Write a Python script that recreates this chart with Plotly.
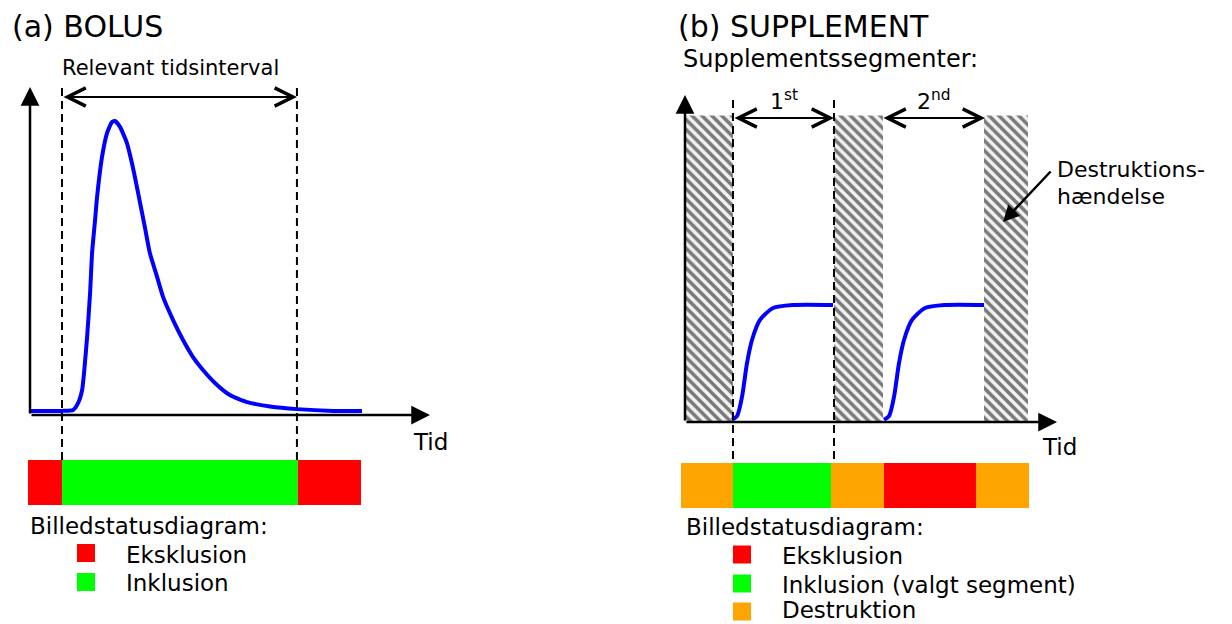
import plotly.graph_objects as go

W, H = 1232, 624
FONT = "DejaVu Sans"

# ---------------- Panel (a) BOLUS data ----------------
bolus_t = [0.0, 0.96, 1.30, 1.45, 1.57, 1.63, 1.72, 1.81, 1.87, 1.96, 2.02, 2.17, 2.32, 2.47, 2.56,
           2.71, 2.92, 3.07, 3.22, 3.46, 3.61, 3.83, 4.01, 4.31, 4.61, 4.91, 5.21, 5.57, 6.02,
           6.54, 7.23, 8.04, 9.13, 10.0]
bolus_v = [0.014, 0.014, 0.017, 0.041, 0.085, 0.146, 0.265, 0.415, 0.551, 0.663, 0.741, 0.878, 0.959, 0.997, 1.0,
           0.980, 0.925, 0.857, 0.776, 0.639, 0.551, 0.469, 0.401, 0.323, 0.255, 0.197, 0.153, 0.109, 0.068,
           0.044, 0.029, 0.020, 0.014, 0.014]
relevant_interval = [0.964, 8.04]
status_a_start = [-0.06, 0.964, 8.07]
status_a_end = [0.964, 8.07, 9.97]
status_a_color = ["#ff0000", "#00ff00", "#ff0000"]
legend_a_labels = ["Eksklusion", "Inklusion"]
legend_a_colors = ["#ff0000", "#00ff00"]

# ---------------- Panel (b) SUPPLEMENT data ----------------
destr_start = [0.0, 2.98, 5.98]
destr_end = [0.96, 3.96, 6.86]
destr_top = 2.62
seg1_t = [0.94, 1.04, 1.14, 1.24, 1.34, 1.50, 1.76, 2.16, 2.96]
seg1_v = [0.02, 0.05, 0.214, 0.504, 0.701, 0.872, 0.974, 1.0, 1.0]
seg2_t = [3.98, 4.08, 4.18, 4.28, 4.38, 4.54, 4.80, 5.20, 5.98]
seg2_v = [0.02, 0.05, 0.214, 0.504, 0.701, 0.872, 0.974, 1.0, 1.0]
segments = [[0.96, 2.98], [3.94, 6.0]]
segment_labels = ["1<sup>st</sup>", "2<sup>nd</sup>"]
status_b_start = [-0.08, 0.96, 2.92, 3.98, 5.82]
status_b_end = [0.96, 2.92, 3.98, 5.82, 6.88]
status_b_color = ["#ffa500", "#00ff00", "#ffa500", "#ff0000", "#ffa500"]
legend_b_labels = ["Eksklusion", "Inklusion (valgt segment)", "Destruktion"]
legend_b_colors = ["#ff0000", "#00ff00", "#ffa500"]

# ---------------- pixel <-> data helpers (layout only) ----------------
A_X0, A_SX, A_Y0, A_SY = 30, 33.2, 415, 294
B_X0, B_SX, B_Y0, B_SY = 685, 50.0, 422, 117


def ta(px):
    return (px - A_X0) / A_SX


def va(py):
    return (A_Y0 - py) / A_SY


def tb(px):
    return (px - B_X0) / B_SX


def vb(py):
    return (B_Y0 - py) / B_SY


def P(px):
    return px / W


def Q(py):
    return 1 - py / H


fig = go.Figure()

# hatched destruction events (panel b)
fig.add_trace(go.Bar(
    x=[(s + e) / 2 for s, e in zip(destr_start, destr_end)],
    width=[e - s for s, e in zip(destr_start, destr_end)],
    y=[destr_top] * len(destr_start), base=[0] * len(destr_start),
    marker=dict(color="white", line=dict(width=0),
                pattern=dict(shape="\\", size=7, solidity=0.5, fgcolor="#000000", bgcolor="#f2f2f2")),
    xaxis="x2", yaxis="y2", showlegend=False, hoverinfo="skip"))

# status bars
fig.add_trace(go.Bar(
    orientation="h", y=[(va(460) + va(505)) / 2] * len(status_a_start),
    x=[e - s for s, e in zip(status_a_start, status_a_end)], base=status_a_start,
    width=[va(460) - va(505)] * len(status_a_start),
    marker=dict(color=status_a_color, line=dict(width=0)),
    xaxis="x", yaxis="y", showlegend=False, hoverinfo="skip"))
fig.add_trace(go.Bar(
    orientation="h", y=[(vb(463) + vb(508)) / 2] * len(status_b_start),
    x=[e - s for s, e in zip(status_b_start, status_b_end)], base=status_b_start,
    width=[vb(463) - vb(508)] * len(status_b_start),
    marker=dict(color=status_b_color, line=dict(width=0)),
    xaxis="x2", yaxis="y2", showlegend=False, hoverinfo="skip"))

# curves
fig.add_trace(go.Scatter(x=bolus_t, y=bolus_v, mode="lines",
                         line=dict(color="#0000ff", width=4, shape="spline", smoothing=0.5),
                         xaxis="x", yaxis="y", showlegend=False, hoverinfo="skip"))
for st, sv in [(seg1_t, seg1_v), (seg2_t, seg2_v)]:
    fig.add_trace(go.Scatter(x=st, y=sv, mode="lines",
                             line=dict(color="#0000ff", width=4, shape="spline", smoothing=0.7),
                             xaxis="x2", yaxis="y2", showlegend=False, hoverinfo="skip"))

# legend squares
fig.add_trace(go.Scatter(x=[ta(86)] * len(legend_a_colors), y=[va(553), va(582)], mode="markers",
                         marker=dict(symbol="square", size=18, color=legend_a_colors),
                         xaxis="x", yaxis="y", showlegend=False, hoverinfo="skip"))
fig.add_trace(go.Scatter(x=[tb(742)] * len(legend_b_colors), y=[vb(554.5), vb(583.5), vb(611.5)],
                         mode="markers",
                         marker=dict(symbol="square", size=18, color=legend_b_colors),
                         xaxis="x2", yaxis="y2", showlegend=False, hoverinfo="skip"))

shapes = []
# dashed guides
for t in relevant_interval:
    shapes.append(dict(type="line", xref="x", yref="y", x0=t, x1=t, y0=va(88), y1=va(460),
                       line=dict(color="black", width=2, dash="8px,5px")))
for t in segments[0]:
    shapes.append(dict(type="line", xref="x2", yref="y2", x0=t, x1=t, y0=vb(100), y1=vb(462),
                       line=dict(color="black", width=2, dash="8px,5px")))

ann = []


def arrow(x, y, ax, ay, xr, yr, head=2, size=1.3, width=2.5, both=False):
    d = dict(x=x, y=y, ax=ax, ay=ay, xref=xr, yref=yr, axref=xr, ayref=yr, text="",
             showarrow=True, arrowhead=head, arrowsize=size, arrowwidth=width,
             arrowcolor="black", standoff=0, startstandoff=0)
    if both:
        d.update(arrowside="end+start", startarrowhead=head, startarrowsize=size)
    return d


def text(s, px, py, size, anchor="left"):
    return dict(text=s, x=P(px), y=Q(py), xref="paper", yref="paper", showarrow=False,
                xanchor=anchor, yanchor="middle", font=dict(family=FONT, size=size, color="black"))


# axes (a)
ann.append(arrow(0, va(87), 0, 0, "x", "y", head=2, size=1.5, width=2.5))
ann.append(arrow(ta(430), 0, 0, 0, "x", "y", head=2, size=1.5, width=2.5))
# axes (b)
ann.append(arrow(0, vb(95), 0, 0, "x2", "y2", head=2, size=1.5, width=2.5))
ann.append(arrow(tb(1057), 0, 0, 0, "x2", "y2", head=2, size=1.5, width=2.5))
# relevant interval double arrow
ann.append(arrow(relevant_interval[1], va(97), relevant_interval[0], va(97), "x", "y",
                 head=5, size=1.8, width=2, both=True))
# segment double arrows
for (s, e), lab in zip(segments, segment_labels):
    ann.append(arrow(e, vb(118), s, vb(118), "x2", "y2", head=5, size=1.8, width=2, both=True))
    ann.append(dict(text=lab, x=(s + e) / 2, y=vb(100), xref="x2", yref="y2", showarrow=False,
                    xanchor="center", yanchor="middle", font=dict(family=FONT, size=22, color="black")))
# destruction arrow
ann.append(arrow(tb(1003), vb(222), tb(1052), vb(170), "x2", "y2", head=2, size=1.3, width=2.5))

# texts
ann.append(text("(a) BOLUS", 10, 27, 30))
ann.append(text("(b) SUPPLEMENT", 676, 27, 30))
ann.append(text("Relevant tidsinterval", 170, 68, 21, anchor="center"))
ann.append(text("Supplementssegmenter:", 681, 59, 24))
ann.append(text("Tid", 411, 442, 23))
ann.append(text("Tid", 1040, 447, 23))
ann.append(text("Destruktions-", 1055, 170, 22))
ann.append(text("hændelse", 1055, 196, 22))
ann.append(text("Billedstatusdiagram:", 28, 526, 23))
ann.append(text("Billedstatusdiagram:", 684, 527, 23))
for lab, py in zip(legend_a_labels, [555, 583]):
    ann.append(text(lab, 124, py, 23))
for lab, py in zip(legend_b_labels, [556, 584.5, 610]):
    ann.append(text(lab, 780, py, 23))

hidden = dict(visible=False, showgrid=False, zeroline=False, fixedrange=True)
fig.update_layout(
    width=W, height=H, margin=dict(l=0, r=0, t=0, b=0),
    paper_bgcolor="white", plot_bgcolor="white", barmode="overlay",
    xaxis=dict(domain=[0, 0.5], range=[ta(0), ta(616)], **hidden),
    yaxis=dict(domain=[0, 1], range=[va(624), va(0)], **hidden),
    xaxis2=dict(domain=[0.5, 1], range=[tb(616), tb(1232)], anchor="y2", **hidden),
    yaxis2=dict(domain=[0, 1], range=[vb(624), vb(0)], anchor="x2", **hidden),
    shapes=shapes, annotations=ann, showlegend=False,
)

fig.write_html("out.html", config={"displayModeBar": False},
               post_script="document.body.style.margin='0';document.body.style.overflow='hidden';")
